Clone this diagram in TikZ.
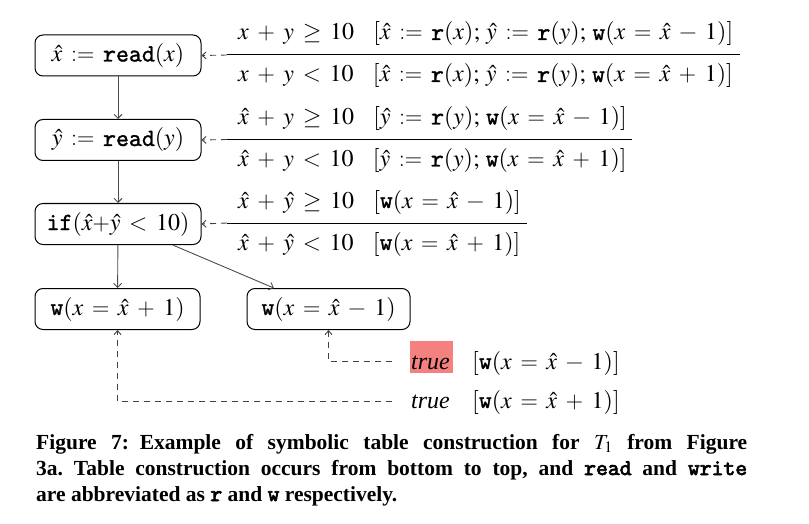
\documentclass[tikz,border=0pt]{standalone}
\usepackage{amsmath}
\usepackage{mathptmx}
\usepackage[no-math]{fontspec}
\setmainfont{Liberation Serif}
\setmonofont{lmmono10-regular.otf}[Scale=1.03,FakeBold=1.2]
\newfontfamily\ttbold{lmmono10-regular.otf}[Scale=1.05,FakeBold=3]
\usetikzlibrary{arrows.meta}
\definecolor{hl}{RGB}{245,128,128}
\newcommand{\ttx}[1]{\text{\ttfamily #1}}
\newcommand{\lmt}[1]{\text{\fontfamily{lmr}\selectfont #1}}
\newcommand{\opsp}[1]{\mathord{\hspace{0.36em}#1\hspace{0.36em}}}
\newcommand{\EQ}{\opsp{\lmt{=}}}
\newcommand{\PL}{\opsp{\lmt{+}}}
\newcommand{\MI}{\opsp{\lmt{−}}}
\newcommand{\LT}{\opsp{\lmt{<}}}
\newcommand{\GE}{\opsp{\geq}}
\newcommand{\CEQ}{\opsp{\lmt{:=}}}
\newcommand{\SC}{\mathord{;\hspace{0.25em}}}
\newcommand{\gap}{\hspace{0.8em}}
\frenchspacing
\begin{document}
\begin{tikzpicture}[x=1pt,y=-1pt,font=\fontsize{24}{28}\selectfont,
  box/.style={draw, rounded corners=8pt, line width=1pt, minimum height=41pt, inner sep=0pt},
  flow/.style={-{Straight Barb[length=4pt,width=8pt]}, line width=0.9pt, draw=black!70},
  back/.style={-{Straight Barb[length=4pt,width=7pt]}, dash pattern=on 6pt off 5pt, line width=0.9pt, draw=black!75},
  lab/.style={anchor=base west, inner sep=0pt},
  bar/.style={line width=1pt},
  captext/.style={anchor=base west, inner sep=0pt, font=\fontsize{21.5}{26}\selectfont\bfseries}]
\useasboundingbox (0,0) rectangle (809,524);
% boxes
\node[box, minimum width=166pt] (b1) at (118,55.5) {$\hat{x}\CEQ\ttx{read}(x)$};
\node[box, minimum width=166pt] (b2) at (118,140) {$\hat{y}\CEQ\ttx{read}(y)$};
\node[box, minimum width=166pt] (b3) at (118,224) {$\ttx{if}(\hat{x}{\lmt{+}}\hat{y}\LT 10)$};
\node[box, minimum width=165pt] (b4) at (117.5,309) {$\ttx{w}(x\EQ\hat{x}\PL 1)$};
\node[box, minimum width=163pt] (b5) at (328.5,309) {$\ttx{w}(x\EQ\hat{x}\MI 1)$};
% flow arrows
\draw[flow] (b1) -- (b2);
\draw[flow] (b2) -- (b3);
\draw[flow] (b3) -- (b4);
\draw[flow] (b3.-21) -- (b5.159);
% fraction rows
\coordinate (f1) at (227,55);  \coordinate (f1e) at (740,55);
\coordinate (f2) at (227,139.5); \coordinate (f2e) at (632,139.5);
\coordinate (f3) at (227,223); \coordinate (f3e) at (527,223);
\draw[bar] (f1) -- (f1e);
\draw[bar] (f2) -- (f2e);
\draw[bar] (f3) -- (f3e);
\node[lab] (f1t) at (238,40) {$x\PL y\GE 10\gap[\hat{x}\CEQ\ttx{r}(x)\SC\hat{y}\CEQ\ttx{r}(y)\SC\ttx{w}(x\EQ\hat{x}\MI 1)]$};
\node[lab] (f1b) at (238,82) {$x\PL y\LT 10\gap[\hat{x}\CEQ\ttx{r}(x)\SC\hat{y}\CEQ\ttx{r}(y)\SC\ttx{w}(x\EQ\hat{x}\PL 1)]$};
\node[lab] (f2t) at (238,124.5) {$\hat{x}\PL y\GE 10\gap[\hat{y}\CEQ\ttx{r}(y)\SC\ttx{w}(x\EQ\hat{x}\MI 1)]$};
\node[lab] (f2b) at (238,166.5) {$\hat{x}\PL y\LT 10\gap[\hat{y}\CEQ\ttx{r}(y)\SC\ttx{w}(x\EQ\hat{x}\PL 1)]$};
\node[lab] (f3t) at (238,208) {$\hat{x}\PL\hat{y}\GE 10\gap[\ttx{w}(x\EQ\hat{x}\MI 1)]$};
\node[lab] (f3b) at (238,250) {$\hat{x}\PL\hat{y}\LT 10\gap[\ttx{w}(x\EQ\hat{x}\PL 1)]$};
\draw[back] (f1) -- (b1.east);
\draw[back] (f2) -- (b2.east);
\draw[back] (f3) -- (b3.east);
% true rows
\node[fill=hl, inner sep=0pt, minimum width=43pt, minimum height=32pt] (hl1) at (431.5,357) {};
\node[lab] (t1) at (411,369) {\textit{true}};
\node[lab] (w1) at (472,369) {$[\ttx{w}(x\EQ\hat{x}\MI 1)]$};
\node[lab] (t2) at (411,408) {\textit{true}};
\node[lab] (w2) at (472,408) {$[\ttx{w}(x\EQ\hat{x}\PL 1)]$};
\coordinate (c1) at (392,361);
\coordinate (c2) at (392,401);
\draw[back] (c1) -| (b5.south);
\draw[back] (c2) -| (b4.south);
% caption
\node[captext] (cap1) at (36,449) {\makebox[711pt][s]{Figure 7:\enspace Example of symbolic table construction for $T_1$ from Figure}};
\node[captext] (cap2) at (36,475) {\makebox[711pt][s]{3a. Table construction occurs from bottom to top, and {\ttbold read} and {\ttbold write}}};
\node[captext] (cap3) at (36,501) {are abbreviated as {\ttbold r} and {\ttbold w} respectively.};
\end{tikzpicture}
\end{document}
